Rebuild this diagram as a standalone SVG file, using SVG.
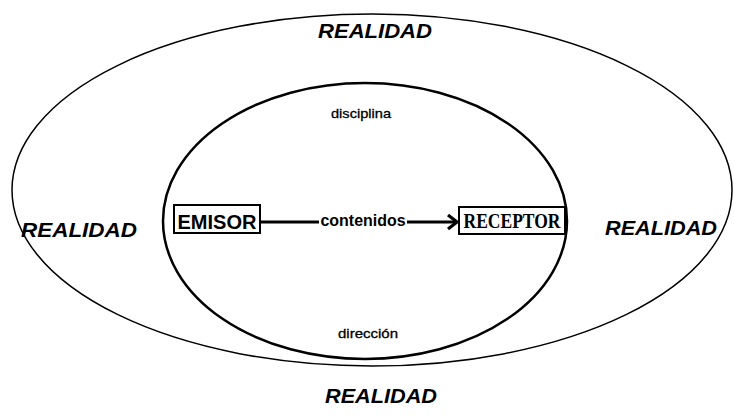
<svg xmlns="http://www.w3.org/2000/svg" width="734" height="416" viewBox="0 0 734 416">
<defs>
<style>
.real{font-family:"Liberation Sans",Arial,sans-serif;font-weight:bold;font-style:italic;font-size:20px;fill:#000;text-anchor:middle}
.small{font-family:"Liberation Sans",Arial,sans-serif;font-size:13px;fill:#000;text-anchor:middle;stroke:#000;stroke-width:0.3}
.box{fill:#fff;stroke:#000;stroke-width:2}
.ell{fill:none;stroke:#000}
.conn{stroke:#000;stroke-width:3;fill:none}
</style>
<marker id="arr" markerWidth="14" markerHeight="18" refX="11" refY="9" orient="auto" markerUnits="userSpaceOnUse">
<path d="M2,2 L11,9 L2,16" fill="none" stroke="#000" stroke-width="3.2"/>
</marker>
</defs>
<rect width="734" height="416" fill="#fff"/>
<g id="outer">
<ellipse class="ell" cx="372" cy="190" rx="360" ry="176" stroke-width="1.5"/>
</g>
<g id="inner">
<ellipse class="ell" cx="365" cy="221" rx="202" ry="138" stroke-width="2.5"/>
</g>
<g id="realidad-top"><text class="real" x="375" y="38" textLength="114" lengthAdjust="spacingAndGlyphs">REALIDAD</text></g>
<g id="realidad-bottom"><text class="real" x="381" y="403" textLength="112" lengthAdjust="spacingAndGlyphs">REALIDAD</text></g>
<g id="realidad-left"><text class="real" x="79" y="237" textLength="116" lengthAdjust="spacingAndGlyphs">REALIDAD</text></g>
<g id="realidad-right"><text class="real" x="661" y="235" textLength="112" lengthAdjust="spacingAndGlyphs">REALIDAD</text></g>
<g id="disciplina"><text class="small" x="361" y="118" textLength="60" lengthAdjust="spacingAndGlyphs">disciplina</text></g>
<g id="direccion"><text class="small" x="368" y="338" textLength="60" lengthAdjust="spacingAndGlyphs">dirección</text></g>
<g id="connectors">
<line class="conn" x1="261" y1="222" x2="319" y2="222"/>
<line class="conn" x1="407" y1="222" x2="457" y2="222" marker-end="url(#arr)"/>
<text x="363" y="226" font-family="Liberation Sans, Arial, sans-serif" font-weight="bold" font-size="16" text-anchor="middle" textLength="85" lengthAdjust="spacingAndGlyphs">contenidos</text>
</g>
<g id="emisor">
<rect class="box" x="174" y="205" width="86" height="28"/>
<text x="217" y="229" font-family="Liberation Sans, Arial, sans-serif" font-weight="bold" font-size="21" text-anchor="middle" textLength="79" lengthAdjust="spacingAndGlyphs">EMISOR</text>
</g>
<g id="receptor">
<rect class="box" x="459" y="207" width="106" height="27"/>
<text x="512" y="228" font-family="Liberation Serif, Times New Roman, serif" font-weight="bold" font-size="20" text-anchor="middle" textLength="97" lengthAdjust="spacingAndGlyphs">RECEPTOR</text>
</g>
</svg>
